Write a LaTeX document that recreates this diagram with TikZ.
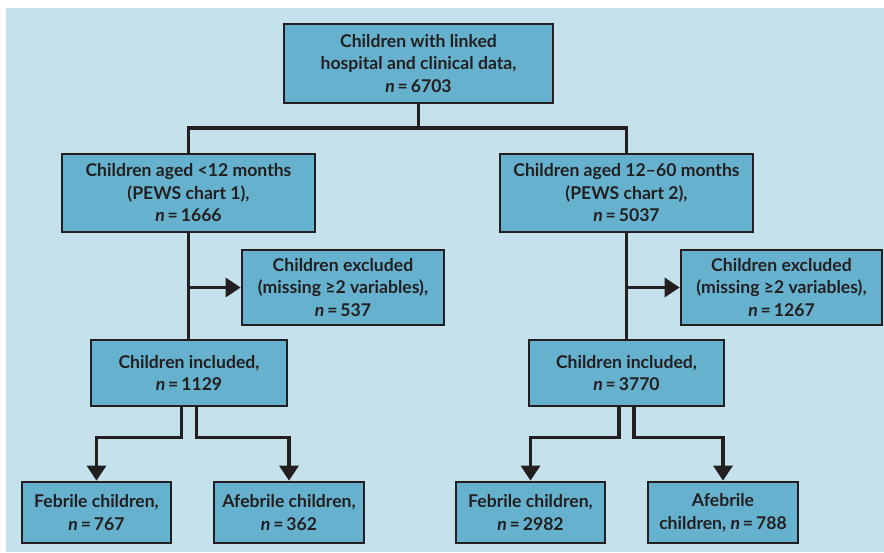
\documentclass[tikz,border=0pt]{standalone}
\usepackage{fontspec}
\setmainfont{Lato}
\usetikzlibrary{arrows.meta}
\definecolor{bgblue}{HTML}{C5E2EC}
\definecolor{boxblue}{HTML}{66B2CE}
\definecolor{ink}{HTML}{231F20}
\tikzset{
  flowbox/.style={draw=ink, fill=boxblue, line width=2.6pt, align=center, inner sep=0pt,
    font=\fontsize{17.6}{22.5}\selectfont\bfseries, text=ink},
  link/.style={draw=ink, line width=3.2pt},
  arrowlink/.style={link, -{Triangle[width=19pt,length=15pt]}}
}
\newcommand{\nn}{\textit{n}\,=\,}
\begin{document}
\begin{tikzpicture}[x=1pt,y=-1pt]
\useasboundingbox (0,0) rectangle (884,553);
\fill[bgblue] (6,8) rectangle (884,552);
\node[flowbox, minimum width=269pt, minimum height=79pt] (top) at (418.5,63.5) {Children with linked\\hospital and clinical data,\\\nn 6703};
\node[flowbox, minimum width=253pt, minimum height=78pt] (L1) at (188.5,193) {Children aged <12 months\\(PEWS chart 1),\\\nn 1666};
\node[flowbox, minimum width=253pt, minimum height=78pt] (R1) at (626.5,193) {Children aged 12–60 months\\(PEWS chart 2),\\\nn 5037};
\node[flowbox, minimum width=202pt, minimum height=75pt] (LE) at (343,287.5) {Children excluded\\(missing ≥2 variables),\\\nn 537};
\node[flowbox, minimum width=201pt, minimum height=75pt] (RE) at (781.5,287.5) {Children excluded\\(missing ≥2 variables),\\\nn 1267};
\node[flowbox, minimum width=196pt, minimum height=66pt] (LI) at (189,373) {Children included,\\\nn 1129};
\node[flowbox, minimum width=195pt, minimum height=66pt] (RI) at (626.5,373) {Children included,\\\nn 3770};
\node[flowbox, minimum width=149pt, minimum height=61pt] (LF) at (96.5,512.5) {Febrile children,\\\nn 767};
\node[flowbox, minimum width=150pt, minimum height=61pt] (LA) at (289,512.5) {Afebrile children,\\\nn 362};
\node[flowbox, minimum width=149pt, minimum height=61pt] (RF) at (530.5,512.5) {Febrile children,\\\nn 2982};
\node[flowbox, minimum width=150pt, minimum height=61pt] (RA) at (723,512.5) {Afebrile\\children, \nn 788};
\coordinate (sp) at (418.5,128);
\draw[link] (top.south) -- (sp);
\draw[link] (L1.north) |- (sp) -| (R1.north);
\draw[link] (L1.south) -- (L1.south |- LI.north);
\draw[link] (R1.south) -- (R1.south |- RI.north);
\draw[arrowlink] (L1.south |- LE.west) -- (LE.west);
\draw[arrowlink] (R1.south |- RE.west) -- (RE.west);
\draw[arrowlink] ([xshift=-7.5pt]LI.south) -- ++(0,30) -| (LF.north);
\draw[arrowlink] ([xshift=7.5pt]LI.south) -- ++(0,30) -| (LA.north);
\draw[arrowlink] ([xshift=-7.5pt]RI.south) -- ++(0,30) -| (RF.north);
\draw[arrowlink] ([xshift=7.5pt]RI.south) -- ++(0,30) -| (RA.north);
\end{tikzpicture}
\end{document}
